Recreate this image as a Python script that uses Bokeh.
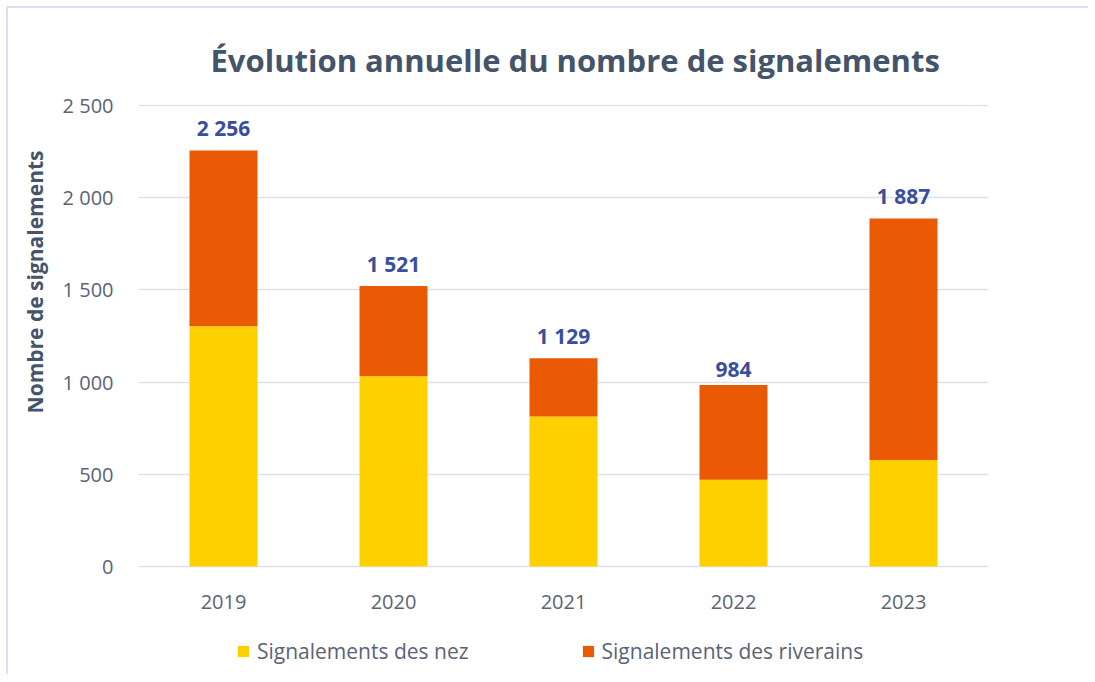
from bokeh.plotting import figure
from bokeh.models import (ColumnDataSource, FactorRange, Range1d, Legend, LegendItem,
                          LabelSet, FixedTicker, Title)
from bokeh.core.properties import value
from bokeh.embed import file_html
from bokeh.resources import INLINE

years = ["2019", "2020", "2021", "2022", "2023"]
nez = [1303, 1032, 813, 470, 578]
totals = [2256, 1521, 1129, 984, 1887]
riverains = [t - n for t, n in zip(totals, nez)]
total_labels = ["2 256", "1 521", "1 129", "984", "1 887"]
y_ticks = [0, 500, 1000, 1500, 2000, 2500]
y_tick_labels = ["0", "500", "1 000", "1 500", "2 000", "2 500"]
series_names = ["Signalements des nez", "Signalements des riverains"]
title_text = "Évolution annuelle du nombre de signalements"
y_label = "Nombre de signalements"

YELLOW = "#FFD000"
ORANGE = "#EA5904"
GRID = "#DDE0F1"
TXT = "#5A6377"
DARK = "#44546A"
FONT = "Open Sans"

# layout: the plotting frame also holds the category labels and the legend below 0
Y_END = 2505
PLOT_PX = 462          # pixels from 0 to Y_END
BELOW_PX = 108         # pixels kept under the 0 line for labels and legend
Y_START = -BELOW_PX * Y_END / PLOT_PX

source = ColumnDataSource(dict(years=years, nez=nez, riverains=riverains,
                               totals=totals, total_labels=total_labels,
                               base=[0] * len(years)))

p = figure(x_range=FactorRange(*years), y_range=Range1d(Y_START, Y_END),
           frame_width=850, frame_height=PLOT_PX + BELOW_PX, output_backend="svg",
           toolbar_location=None,
           min_border_left=130, min_border_right=100, min_border_top=96,
           min_border_bottom=0)
p.styles = {"border-top": "2px solid #DDE0F1", "border-left": "2px solid #DDE0F1",
            "margin-left": "6px", "margin-top": "6px"}
p.outline_line_color = None

r = p.vbar_stack(["nez", "riverains"], x="years", width=0.4, source=source,
                 color=[YELLOW, ORANGE], line_color=None)

labels = LabelSet(x="years", y="totals", text="total_labels", source=source,
                  text_align="center", text_baseline="bottom", y_offset=8,
                  text_font=value(FONT), text_font_size="21px",
                  text_font_style="bold", text_color="#3A4E9E")
p.add_layout(labels)

# category labels (x axis) drawn under the 0 line
xlabels = LabelSet(x="years", y="base", text="years", source=source,
                   text_align="center", text_baseline="middle", y_offset=-35,
                   text_font=value(FONT), text_font_size="20px", text_color=TXT)
p.add_layout(xlabels)
p.xaxis.visible = False

# y axis
p.yaxis.ticker = FixedTicker(ticks=y_ticks)
p.yaxis.major_label_overrides = {t: l for t, l in zip(y_ticks, y_tick_labels)}
ax = p.yaxis[0]
ax.axis_line_color = None
ax.major_tick_line_color = None
ax.minor_tick_line_color = None
ax.major_label_text_font = FONT
ax.major_label_text_font_size = "20px"
ax.major_label_text_color = TXT
ax.major_label_standoff = 19
p.xgrid.grid_line_color = None
p.ygrid.grid_line_color = GRID
p.ygrid.grid_line_width = 1.6

# title
p.title.text = title_text
p.title.align = "left"
p.title.offset = 72
p.title.standoff = 48
p.title.text_font = FONT
p.title.text_font_size = "31px"
p.title.text_font_style = "bold"
p.title.text_color = DARK

ytitle = Title(text=y_label, align="right", offset=46, standoff=18,
               vertical_align="top", text_font=FONT,
               text_font_size="21px", text_font_style="bold", text_color=DARK)
p.add_layout(ytitle, "left")

legend = Legend(items=[LegendItem(label=series_names[0], renderers=[r[0]]),
                       LegendItem(label=series_names[1], renderers=[r[1]])],
                orientation="horizontal", location=(98, 9), padding=0, margin=0,
                spacing=112, glyph_width=14, glyph_height=14, label_standoff=7,
                label_text_font=FONT, label_text_font_size="21px",
                label_text_color=TXT, border_line_color=None,
                background_fill_alpha=0)
p.add_layout(legend, "center")

open("out.html", "w").write(file_html(p, INLINE))
